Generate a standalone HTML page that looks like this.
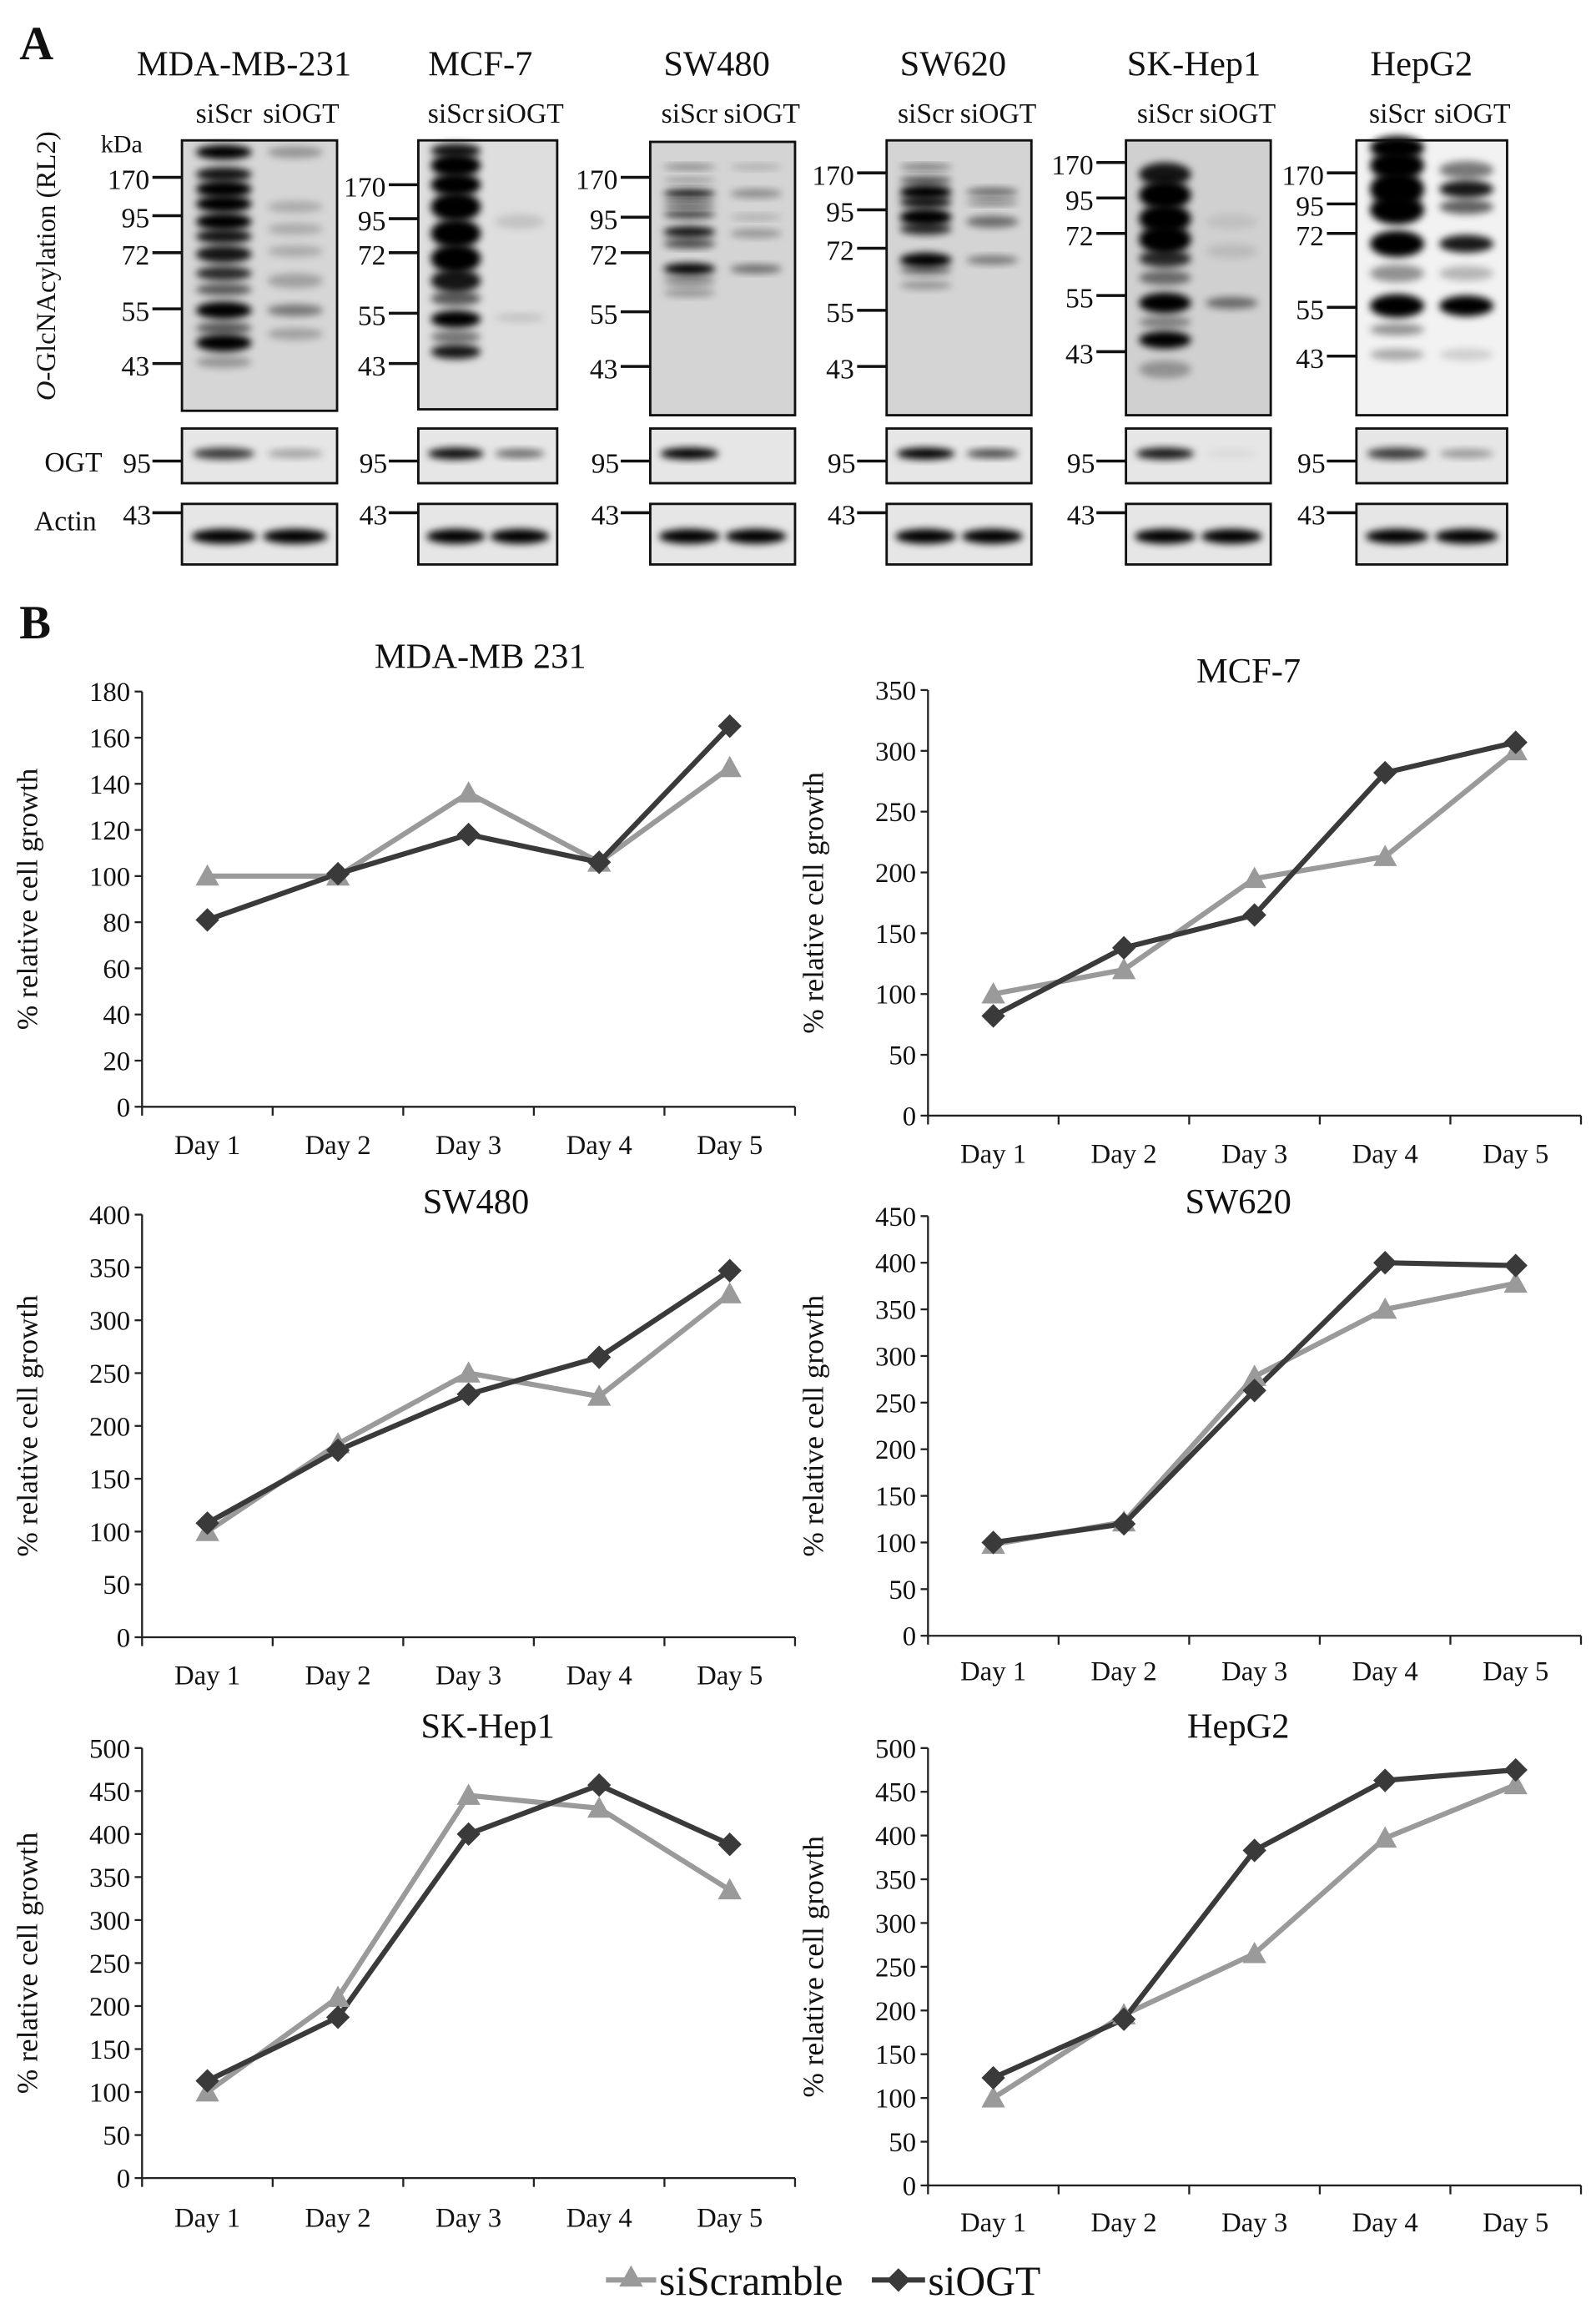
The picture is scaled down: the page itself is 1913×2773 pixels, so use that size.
<!DOCTYPE html>
<html><head><meta charset="utf-8"><style>
html,body{margin:0;padding:0;background:#fff}
svg{display:block}
text{font-family:"Liberation Serif",serif;fill:#111}
</style></head><body>
<svg id="fig" width="1913" height="2773" viewBox="0 0 1080 1566" xmlns="http://www.w3.org/2000/svg">
<defs>
<filter id="blur2" x="-50%" y="-50%" width="200%" height="200%"><feGaussianBlur stdDeviation="2.6"/></filter>
<filter id="blur4" x="-50%" y="-50%" width="200%" height="200%"><feGaussianBlur stdDeviation="4"/></filter>
</defs>
<g id="panelA"></g>
<g id="panelB"></g>
</svg>
<script>
// ---- Chart data ----
const categories = ["Day 1","Day 2","Day 3","Day 4","Day 5"];
const chartTitles = ["MDA-MB 231","MCF-7","SW480","SW620","SK-Hep1","HepG2"];
const yMaxes = [180,350,400,450,500,500];
const yStepsArr = [20,50,50,50,50,50];
const siScrambleMDA = [100,100,136,106,147];
const siOGTMDA = [81,101,118,106,165];
const siScrambleMCF7 = [100,120,195,213,300];
const siOGTMCF7 = [82,138,165,282,307];
const siScrambleSW480 = [100,183,250,228,325];
const siOGTSW480 = [108,177,230,265,347];
const siScrambleSW620 = [98,122,278,350,378];
const siOGTSW620 = [100,120,263,400,397];
const siScrambleSKHep1 = [100,210,445,430,335];
const siOGTSKHep1 = [113,187,400,457,388];
const siScrambleHepG2 = [100,195,265,397,458];
const siOGTHepG2 = [123,190,383,463,475];
const scrSeries = [siScrambleMDA,siScrambleMCF7,siScrambleSW480,siScrambleSW620,siScrambleSKHep1,siScrambleHepG2];
const ogtSeries = [siOGTMDA,siOGTMCF7,siOGTSW480,siOGTSW620,siOGTSKHep1,siOGTHepG2];

const NS="http://www.w3.org/2000/svg";
function mk(tag,attrs,parent){const e=document.createElementNS(NS,tag);for(const k in attrs)e.setAttribute(k,attrs[k]);parent.appendChild(e);return e;}
function txt(s,attrs,parent){const e=mk('text',attrs,parent);e.textContent=s;return e;}

// ---- Panel A ----
const A=document.getElementById('panelA');
let t=txt('A',{x:13,y:40,'font-size':32,'font-weight':'bold'},A);



const blotNames=["MDA-MB-231","MCF-7","SW480","SW620","SK-Hep1","HepG2"];
const blotTitleX=[165,325,485,645,808,962];
const boxes=[[123,228,95,278],[283,377,95,277],[440,538,96,281],[600,698,95,281],[762,860,95,281],[918,1020,95,281]];
const markerYs=[[120,146,171,209,246],[125,148,171,212,246],[120,147,171,211,248],[117,142,168,210,248],[110,134,158,200,238],[117,138,158,208,241]];
const markerLabels=["170","95","72","55","43"];
const bgMain=["#d6d6d6","#dedede","#d4d4d4","#d4d4d4","#d0d0d0","#f2f2f2"];
const scrBands=[
 [[103,1,5],[118,.9,5],[128,1,6],[138,1,6],[150,1,6],[160,.9,5],[172,.9,6],[185,.8,5],[196,.6,4],[210,1,6],[222,.6,4],[232,1,6],[245,.3,4]],
 [[102,.9,5],[112,1,8],[125,1,8],[140,1,10],[158,1,10],[175,1,10],[190,.9,8],[202,.6,5],[216,1,6],[228,.5,4],[238,.9,5]],
 [[113,.4,2],[122,.3,2],[131,.9,3],[138,.7,2],[145,.7,3],[157,.9,4],[165,.7,3],[182,1,4],[190,.4,3],[198,.3,3]],
 [[113,.5,2],[122,.6,3],[130,1,5],[137,.9,4],[147,1,6],[155,.8,4],[176,1,5],[183,.5,3],[193,.3,3]],
 [[118,.9,8],[132,1,10],[148,1,10],[162,1,10],[175,.8,6],[188,.5,5],[205,1,7],[218,.4,4],[230,1,6],[250,.3,6]],
 [[100,1,8],[112,1,10],[128,1,12],[142,1,10],[165,1,9],[185,.4,6],[207,1,8],[223,.4,4],[240,.3,4]]
];
const ogtBands=[
 [[103,.3,4],[140,.2,4],[155,.2,4],[170,.2,4],[190,.25,5],[210,.45,4],[226,.25,4]],
 [[150,.12,5],[215,.12,3]],
 [[113,.2,2],[131,.35,3],[147,.2,2],[158,.3,3],[182,.5,3]],
 [[130,.5,3],[137,.45,2],[150,.5,4],[176,.45,3]],
 [[150,.08,5],[170,.1,5],[205,.5,4]],
 [[115,.5,6],[128,.9,6],[140,.6,5],[165,.9,6],[185,.25,5],[207,1,7],[240,.15,4]]
];
const ogtScr=[.75,.95,1,1,.9,.75], ogtKd=[.3,.55,0,.7,.05,.35];
const actScr=[1,1,1,1,1,1], actKd=[1,1,1,1,1,1];

function band(g,cx,cy,w,h,op,blur){mk('ellipse',{cx:cx,cy:cy,rx:w/2,ry:h,fill:'#000','fill-opacity':op,filter:'url(#'+blur+')'},g);}

blotNames.forEach((nm,i)=>{
  const g=mk('g',{},A);
  
  
  const [x0,x1,y0,y1]=boxes[i];
  const w=x1-x0, c1=x0+w*0.27, c2=x0+w*0.73, lw=w*0.36;
  let tt=txt(nm,{x:blotTitleX[i],y:51,'font-size':24,'text-anchor':'middle'},g);
  
  
  let l1=txt('siScr',{x:c1,y:83,'font-size':19,'text-anchor':'middle'},g);
  
  
  let l2=txt('siOGT',{x:c2+4,y:83,'font-size':19,'text-anchor':'middle'},g);
  
  
  const cg=mk('g',{},g);
  mk('rect',{x:x0,y:y0,width:w,height:y1-y0,fill:bgMain[i]},cg);
  scrBands[i].forEach(b=>band(cg,c1,b[0],lw,b[2],b[1],'blur2'));
  ogtBands[i].forEach(b=>band(cg,c2,b[0],lw,b[2],b[1],'blur2'));
  mk('rect',{x:x0,y:y0,width:w,height:y1-y0,fill:'none',stroke:'#111','stroke-width':1.6},g);
  markerYs[i].forEach((my,k)=>{
    mk('line',{x1:x0-20,y1:my,x2:x0,y2:my,stroke:'#111','stroke-width':2},g);
    txt(markerLabels[k],{x:x0-22,y:my+8,'font-size':19,'text-anchor':'end'},g);
  });
  mk('rect',{x:x0,y:290,width:w,height:37,fill:'#e6e6e6',stroke:'#111','stroke-width':1.6},g);
  band(g,c1,307,lw+4,4,ogtScr[i],'blur2');
  if(ogtKd[i]>0)band(g,c2,307,lw,3,ogtKd[i],'blur2');
  mk('line',{x1:x0-20,y1:312,x2:x0,y2:312,stroke:'#111','stroke-width':2},g);
  txt('95',{x:x0-21,y:320,'font-size':19,'text-anchor':'end'},g);
  mk('rect',{x:x0,y:341,width:w,height:41,fill:'#e6e6e6',stroke:'#111','stroke-width':1.6},g);
  band(g,c1,363,lw+6,5,actScr[i],'blur2');
  band(g,c2,363,lw+6,5,actKd[i],'blur2');
  mk('line',{x1:x0-20,y1:347,x2:x0,y2:347,stroke:'#111','stroke-width':2},g);
  txt('43',{x:x0-21,y:355,'font-size':19,'text-anchor':'end'},g);
});
let kda=txt('kDa',{x:68,y:103,'font-size':17},A);

let yl=txt('',{x:0,y:0,'font-size':18.5,'text-anchor':'middle',transform:'translate(37,180) rotate(-90)'},A);

let ts=mk('tspan',{'font-style':'italic'},yl);ts.textContent='O';
let ts2=mk('tspan',{},yl);ts2.textContent='-GlcNAcylation  (RL2)';
let ogl=txt('OGT',{x:30,y:319,'font-size':19},A);
let acl=txt('Actin',{x:23,y:359,'font-size':19},A);

// ---- Panel B ----
const B=document.getElementById('panelB');
let bl=txt('B',{x:13,y:432,'font-size':32,'font-weight':'bold'},B);

const layouts=[[96,468,749,325,452,781],[628,467,755,845,462,787],[96,822,1108,322,821,1140],[628,823,1107,838,821,1137],[96,1183,1474,330,1176,1507],[628,1183,1479,838,1176,1510]];
const plotW=442;
function diamond(g,x,y,r){return mk('polygon',{points:`${x},${y-r} ${x+r},${y} ${x},${y+r} ${x-r},${y}`,fill:'#3a3a3a'},g);}
function tri(g,x,y,r){return mk('polygon',{points:`${x},${y-r} ${x+r},${y+r*0.8} ${x-r},${y+r*0.8}`,fill:'#9a9a9a'},g);}
chartTitles.forEach((title,i)=>{
  const [ax,yT,y0,tx,ty,dy]=layouts[i];
  const g=mk('g',{},B);
  
  
  const ymax=yMaxes[i], step=yStepsArr[i];
  const yS=v=>y0-(v/ymax)*(y0-yT);
  const bw=plotW/categories.length;
  const xS=k=>ax+bw*(k+0.5);
  let tt=txt(title,{x:tx,y:ty,'font-size':24,'text-anchor':'middle'},g);
  
  mk('line',{x1:ax,y1:yT,x2:ax,y2:y0,stroke:'#222','stroke-width':1.3},g);
  mk('line',{x1:ax,y1:y0,x2:ax+plotW,y2:y0,stroke:'#222','stroke-width':1.3},g);
  for(let v=0;v<=ymax;v+=step){
    mk('line',{x1:ax-5,y1:yS(v),x2:ax,y2:yS(v),stroke:'#222','stroke-width':1.3},g);
    txt(String(v),{x:ax-8,y:yS(v)+6.5,'font-size':18.5,'text-anchor':'end'},g);
  }
  for(let k=0;k<=categories.length;k++){
    mk('line',{x1:ax+bw*k,y1:y0,x2:ax+bw*k,y2:y0+6,stroke:'#222','stroke-width':1.3},g);
  }
  categories.forEach((c,k)=>{txt(c,{x:xS(k),y:dy,'font-size':18.5,'text-anchor':'middle'},g);});
  let ya=txt('% relative cell growth',{x:0,y:0,'font-size':20,'text-anchor':'middle',transform:`translate(${ax-71},${(yT+y0)/2}) rotate(-90)`},g);
  
  const s=scrSeries[i], o=ogtSeries[i];
  let p1=mk('polyline',{points:s.map((v,k)=>xS(k)+','+yS(v)).join(' '),fill:'none',stroke:'#9a9a9a','stroke-width':3.5},g);
  
  let p2=mk('polyline',{points:o.map((v,k)=>xS(k)+','+yS(v)).join(' '),fill:'none',stroke:'#3a3a3a','stroke-width':3.5},g);
  
  s.forEach((v,k)=>{const m=tri(g,xS(k),yS(v),8);});
  o.forEach((v,k)=>{const m=diamond(g,xS(k),yS(v),8);});
});
const lg=mk('g',{},B);

const le1=mk('g',{},lg);

mk('line',{x1:410,y1:1543,x2:444,y2:1543,stroke:'#9a9a9a','stroke-width':3.5},le1);
tri(le1,427,1541,8);
txt('siScramble',{x:446,y:1553,'font-size':28},le1);
const le2=mk('g',{},lg);

mk('line',{x1:590,y1:1543,x2:626,y2:1543,stroke:'#3a3a3a','stroke-width':3.5},le2);
diamond(le2,608,1543,8);
txt('siOGT',{x:628,y:1553,'font-size':28},le2);
</script>
</body></html>
